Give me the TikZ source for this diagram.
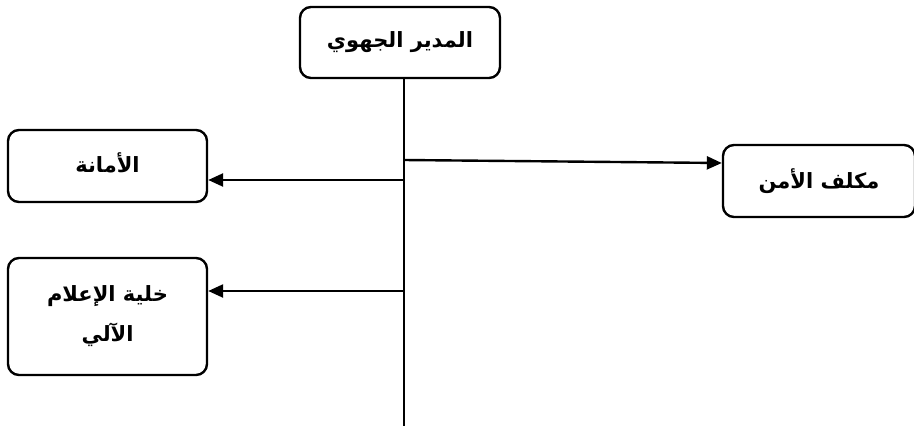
\documentclass[tikz,border=0pt]{standalone}
\usepackage{fontspec}
\newfontfamily\arabicfont[Script=Arabic]{DejaVu Sans}
\TeXXeTstate=1
\usetikzlibrary{arrows.meta}
\tikzset{
  box/.style={draw, line width=2.4pt, rounded corners=11pt, align=center, inner sep=0pt,
    font=\arabicfont\bfseries\fontsize{21}{40}\selectfont},
  arr/.style={line width=2.4pt, -{Triangle[length=15pt,width=13pt]}},
  trunk/.style={line width=2.4pt}
}
\begin{document}
\begin{tikzpicture}[x=1pt,y=-1pt]
\useasboundingbox (0,0) rectangle (914,426);
\node[box, minimum width=200pt, minimum height=71pt] (dir) at (400,42.5) {\raisebox{-3pt}{\beginR المدير الجهوي\endR}};
\node[box, minimum width=199pt, minimum height=72pt] (amana) at (107.5,166) {\raisebox{6pt}{\beginR الأمانة\endR}};
\node[box, minimum width=199pt, minimum height=117pt] (khaliya) at (107.5,316.5) {\beginR خلية الإعلام\endR\\\beginR الآلي\endR};
\node[box, minimum width=192pt, minimum height=72pt] (amn) at (819,181) {\beginR مكلف الأمن\endR};
\coordinate (t0) at (404,426);
\coordinate (j1) at (404,180);
\coordinate (j2) at (404,291);
\coordinate (j3) at (404,160);
\draw[trunk] (dir.south -| t0) -- (t0);
\draw[arr] (j1) -- (j1 -| amana.east);
\draw[arr] (j2) -- (j2 -| khaliya.east);
\draw[arr] (j3) -- ([yshift=18pt]amn.west);
\end{tikzpicture}
\end{document}
